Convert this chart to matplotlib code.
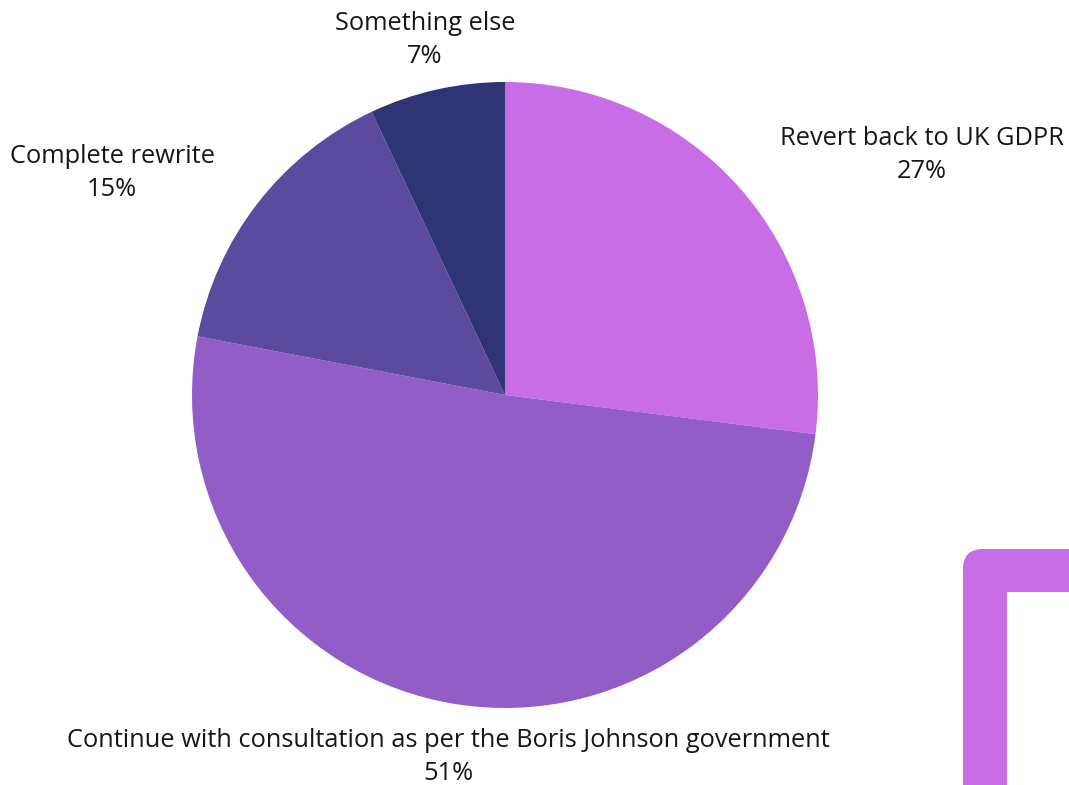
import matplotlib.pyplot as plt
from matplotlib.path import Path
from matplotlib.patches import PathPatch

plt.rcParams['font.family'] = ['Open Sans', 'DejaVu Sans']

labels = ["Revert back to UK GDPR",
          "Continue with consultation as per the Boris Johnson government",
          "Complete rewrite",
          "Something else"]
shares = [27, 51, 15, 7]
colors = ["#C86DE5", "#925DC6", "#5C4A9F", "#2F3474"]

W, H = 1069, 785
fig = plt.figure(figsize=(W / 100, H / 100), dpi=100)
ax = fig.add_axes([0, 0, 1, 1])

# pie, centre given in pixel coords from the top-left
cx, cy, r = 505, 395, 313
ax.pie(shares, colors=colors, startangle=90, counterclock=False,
       center=(cx, H - cy), radius=r, frame=True,
       wedgeprops=dict(linewidth=0))
ax.set_xlim(0, W)
ax.set_ylim(0, H)
ax.set_aspect('equal')
ax.axis('off')

# label block centres (pixels from top-left)
label_pos = [(922, 155), (448, 757), (112, 173), (425, 40)]
for lab, val, (lx, ly) in zip(labels, shares, label_pos):
    ax.text(lx, H - ly, f"{lab}\n{val}%", ha='center', va='center',
            fontsize=18.3, color='#161616', linespacing=1.4)

# decorative bracket, bottom right
x0, x1, yt, yb, rr = 963, 1007, 549, 592, 20
verts = [(x0, 0), (x0, H - yt - rr), (x0, H - yt), (x0 + rr, H - yt),
         (W, H - yt), (W, H - yb), (x1, H - yb), (x1, 0), (x0, 0)]
codes = [Path.MOVETO, Path.LINETO, Path.CURVE3, Path.CURVE3,
         Path.LINETO, Path.LINETO, Path.LINETO, Path.LINETO, Path.CLOSEPOLY]
ax.add_patch(PathPatch(Path(verts, codes), facecolor="#C86DE5", edgecolor='none'))

fig.savefig("out.png", dpi=100)
